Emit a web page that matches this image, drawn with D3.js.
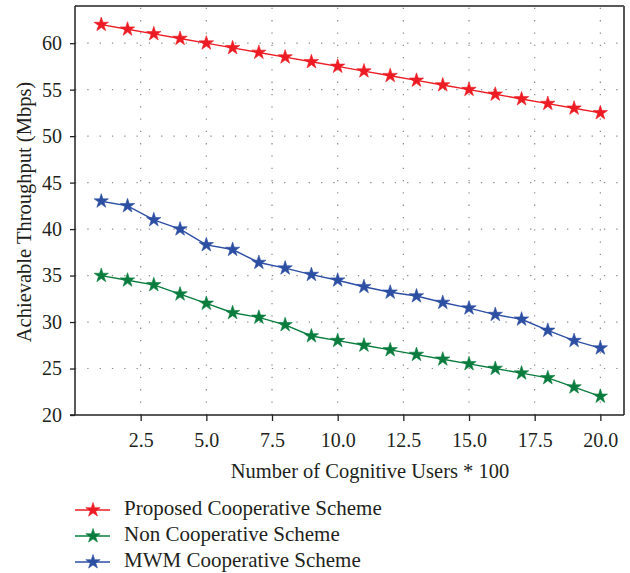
<!DOCTYPE html>
<html><head><meta charset="utf-8">
<script src="https://cdn.jsdelivr.net/npm/d3@7"></script>
<style>
html,body{margin:0;padding:0;background:#fff;}
svg{display:block;}
text{font-family:"Liberation Serif","DejaVu Serif",serif;fill:#231f20;}
</style></head>
<body>
<svg id="chart" width="630" height="573"></svg>
<script>
const users = [1,2,3,4,5,6,7,8,9,10,11,12,13,14,15,16,17,18,19,20];
const proposed = [62,61.5,61,60.5,60,59.5,59,58.5,58,57.5,57,56.5,56,55.5,55,54.5,54,53.5,53,52.5];
const nonCoop = [35,34.5,34,33,32,31,30.5,29.7,28.5,28,27.5,27,26.5,26,25.5,25,24.5,24,23,22];
const mwm = [43,42.5,41,40,38.3,37.8,36.4,35.8,35.1,34.5,33.8,33.2,32.8,32.1,31.5,30.8,30.3,29.1,28,27.2];
const xTicks = [2.5,5,7.5,10,12.5,15,17.5,20];
const yTicks = [20,25,30,35,40,45,50,55,60];
const seriesNames = ["Proposed Cooperative Scheme","Non Cooperative Scheme","MWM Cooperative Scheme"];
const seriesColors = ["#ed1c24","#0a7d3e","#2d4fa3"];
const seriesValues = [proposed, nonCoop, mwm];
const xTitle = "Number of Cognitive Users * 100";
const yTitle = "Achievable Throughput (Mbps)";

const svg = d3.select("#chart");
const L = 75, R = 624, T = 6, B = 415;
const x = d3.scaleLinear().domain([0, 20.9]).range([L, R]);
const y = d3.scaleLinear().domain([20, 64]).range([B, T]);

// grid
const grid = svg.append("g");
grid.selectAll("line.v").data(xTicks).join("line")
  .attr("x1", d => x(d)).attr("x2", d => x(d))
  .attr("y1", B).attr("y2", T)
  .attr("stroke", "#8a8a8a").attr("stroke-width", 1.2)
  .attr("stroke-dasharray", "1.3,11");
grid.selectAll("line.h").data(yTicks.filter(d => d > 20)).join("line")
  .attr("x1", L).attr("x2", R)
  .attr("y1", d => y(d)).attr("y2", d => y(d))
  .attr("stroke", "#8a8a8a").attr("stroke-width", 1.2)
  .attr("stroke-dasharray", "1.3,11");

// frame
svg.append("line").attr("x1", L).attr("x2", R).attr("y1", T).attr("y2", T)
  .attr("stroke", "#222").attr("stroke-width", 1.5);
svg.append("line").attr("x1", R).attr("x2", R).attr("y1", T).attr("y2", B)
  .attr("stroke", "#555").attr("stroke-width", 2);

// axes
const xAxis = svg.append("g").attr("transform", `translate(0,${B})`)
  .call(d3.axisBottom(x).tickValues(xTicks).tickFormat(d3.format(".1f")).tickSizeOuter(0).tickSize(6).tickPadding(12));
xAxis.select(".domain").attr("stroke", "#222").attr("stroke-width", 1.5)
  .attr("d", `M${L-5},0H${R}`);
xAxis.selectAll(".tick line").attr("stroke", "#222").attr("stroke-width", 1.3);
xAxis.selectAll(".tick text").attr("font-size", 20).attr("font-family", "Liberation Serif").attr("fill", "#231f20");

const yAxis = svg.append("g").attr("transform", `translate(${L},0)`)
  .call(d3.axisLeft(y).tickValues(yTicks).tickSizeOuter(0).tickSize(5).tickPadding(8));
yAxis.select(".domain").attr("stroke", "#222").attr("stroke-width", 1.5)
  .attr("d", `M0,${B}V${T}`);
yAxis.selectAll(".tick line").attr("stroke", "#222").attr("stroke-width", 1.3);
yAxis.selectAll(".tick text").attr("font-size", 20).attr("font-family", "Liberation Serif").attr("fill", "#231f20");

// titles
svg.append("text").attr("x", 370).attr("y", 478).attr("text-anchor", "middle")
  .attr("font-size", 20.5).text(xTitle);
svg.append("text").attr("transform", "translate(31,212) rotate(-90)")
  .attr("text-anchor", "middle").attr("font-size", 20.5).text(yTitle);

// series
const line = d3.line().x((d, i) => x(users[i])).y(d => y(d));
const star = d3.symbol().type(d3.symbolStar).size(64);
seriesValues.forEach((vals, k) => {
  const g = svg.append("g");
  g.append("path").datum(vals).attr("d", line)
    .attr("fill", "none").attr("stroke", seriesColors[k]).attr("stroke-width", 1.4);
  g.selectAll("path.m").data(vals).join("path")
    .attr("d", star)
    .attr("transform", (d, i) => `translate(${x(users[i])},${y(d)})`)
    .attr("fill", seriesColors[k]).attr("stroke", seriesColors[k]).attr("stroke-width", 0.6);
});

// legend
const lg = svg.append("g");
seriesNames.forEach((name, k) => {
  const yy = 510 + k * 26;
  lg.append("line").attr("x1", 75).attr("x2", 110).attr("y1", yy).attr("y2", yy)
    .attr("stroke", seriesColors[k]).attr("stroke-width", 1.4);
  lg.append("path").attr("d", star).attr("transform", `translate(93,${yy})`)
    .attr("fill", seriesColors[k]).attr("stroke", seriesColors[k]).attr("stroke-width", 0.6);
  lg.append("text").attr("x", 124).attr("y", yy + 5).attr("font-size", 21).text(name);
});
</script>
</body></html>
